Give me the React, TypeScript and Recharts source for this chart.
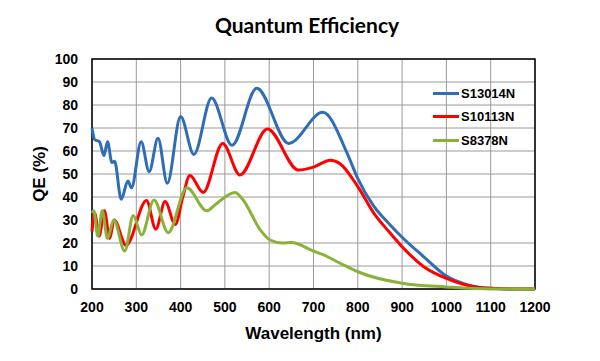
import React from "react";
import { LineChart, Line, XAxis, YAxis, CartesianGrid, ReferenceArea } from "recharts";

// wavelength (nm) / QE (%) pairs
const blueWl = [200, 206, 217, 227, 235, 245, 251, 266, 281, 289, 311, 329, 349, 370, 400, 430, 470, 516, 572, 644, 721, 776, 800, 836, 870, 900, 949, 1000, 1050, 1100, 1150, 1200];
const blueQe = [70, 65, 64, 58, 64, 55, 55.5, 39, 47, 44, 64, 51, 65.5, 46, 75, 58.5, 83, 62.5, 87.3, 63.3, 76.8, 59, 48, 36, 28.5, 22.5, 14, 5.6, 1.7, 0.3, 0, 0];

const redWl = [200, 206, 216, 228, 240, 250, 277, 323, 344, 365, 388, 405, 421, 451, 495, 534, 596, 666, 700, 738, 760, 800, 836, 870, 900, 949, 1000, 1062, 1100, 1150, 1200];
const redQe = [25, 33, 23, 34, 22, 30, 19, 38.5, 26, 38, 28, 40, 49.3, 42, 63.3, 49.6, 69.6, 51.7, 53, 56, 54.5, 44.5, 33, 25, 18.4, 9.7, 4.6, 1, 0.3, 0, 0];

const greenWl = [200, 204, 213, 223, 235, 249, 274, 293, 312, 340, 372, 414, 459, 480, 523, 540, 580, 602, 630, 650, 700, 723, 760, 800, 900, 1000, 1100, 1200];
const greenQe = [33, 34, 23, 34, 22, 30, 16.5, 32, 23.5, 38.7, 24.5, 44, 34, 37, 42, 39, 25.7, 21.3, 20, 20.2, 16.5, 14.8, 11.2, 7.5, 2.5, 0.9, 0, 0];

const xTicks = [200, 300, 400, 500, 600, 700, 800, 900, 1000, 1100, 1200];
const yTicks = [0, 10, 20, 30, 40, 50, 60, 70, 80, 90, 100];

const series = [
  { name: "S13014N", color: "#2f6db5", wl: blueWl, qe: blueQe },
  { name: "S10113N", color: "#ff0000", wl: redWl, qe: redQe },
  { name: "S8378N", color: "#8ab23a", wl: greenWl, qe: greenQe },
];

const zip = (wl: number[], qe: number[]) => wl.map((w, i) => ({ wl: w, qe: qe[i] }));

const tickFont = { fontFamily: "'Liberation Sans', Arial, sans-serif", fontSize: 14, fontWeight: 700, fill: "#000" };

export default function App() {
  return (
    <div style={{ position: "absolute", left: 0, top: 0, width: 600, height: 361, background: "#fff" }}>
      <div
        style={{
          position: "absolute", left: 0, width: 600, top: 12, textAlign: "center",
          paddingLeft: 14, boxSizing: "border-box",
          fontFamily: "Lato, 'Open Sans', sans-serif", fontWeight: 700, fontSize: 21, color: "#000",
        }}
      >
        Quantum Efficiency
      </div>
      <div
        style={{
          position: "absolute", left: 40, top: 174, transform: "translate(-50%, -50%) rotate(-90deg)",
          whiteSpace: "nowrap", fontFamily: "'Liberation Sans', Arial, sans-serif", fontWeight: 700, fontSize: 17,
        }}
      >
        QE (%)
      </div>
      <LineChart width={600} height={361} margin={{ top: 59, right: 65, bottom: 20, left: 0 }}>
        <CartesianGrid stroke="#9a9a9a" strokeWidth={1} />
        <XAxis
          dataKey="wl"
          type="number"
          domain={[200, 1200]}
          ticks={xTicks}
          allowDuplicatedCategory={false}
          tick={tickFont}
          tickLine={false}
          tickSize={6}
          tickMargin={7}
          axisLine={false}
          height={52}
          label={{ value: "Wavelength (nm)", position: "insideBottom", offset: 2, style: { ...tickFont, fontSize: 17 } }}
        />
        <YAxis
          type="number"
          domain={[0, 100]}
          ticks={yTicks}
          tick={tickFont}
          tickLine={false}
          tickSize={6}
          tickMargin={8}
          axisLine={false}
          width={92}
        />
        {series.map((s) => (
          <Line
            key={s.name}
            data={zip(s.wl, s.qe)}
            dataKey="qe"
            name={s.name}
            type="monotone"
            stroke={s.color}
            strokeWidth={3}
            dot={false}
            isAnimationActive={false}
          />
        ))}
        <ReferenceArea x1={200} x2={1200} y1={0} y2={100} fill="none" fillOpacity={0} stroke="#000" strokeWidth={1.5} />
      </LineChart>
      <div style={{ position: "absolute", left: 433, top: 82 }}>
        {series.map((s) => (
          <div key={s.name} style={{ display: "flex", alignItems: "center", height: 23.3 }}>
            <div style={{ width: 26, height: 3, background: s.color, marginRight: 2 }} />
            <span style={{ fontFamily: "'Liberation Sans', Arial, sans-serif", fontWeight: 700, fontSize: 13 }}>{s.name}</span>
          </div>
        ))}
      </div>
    </div>
  );
}
